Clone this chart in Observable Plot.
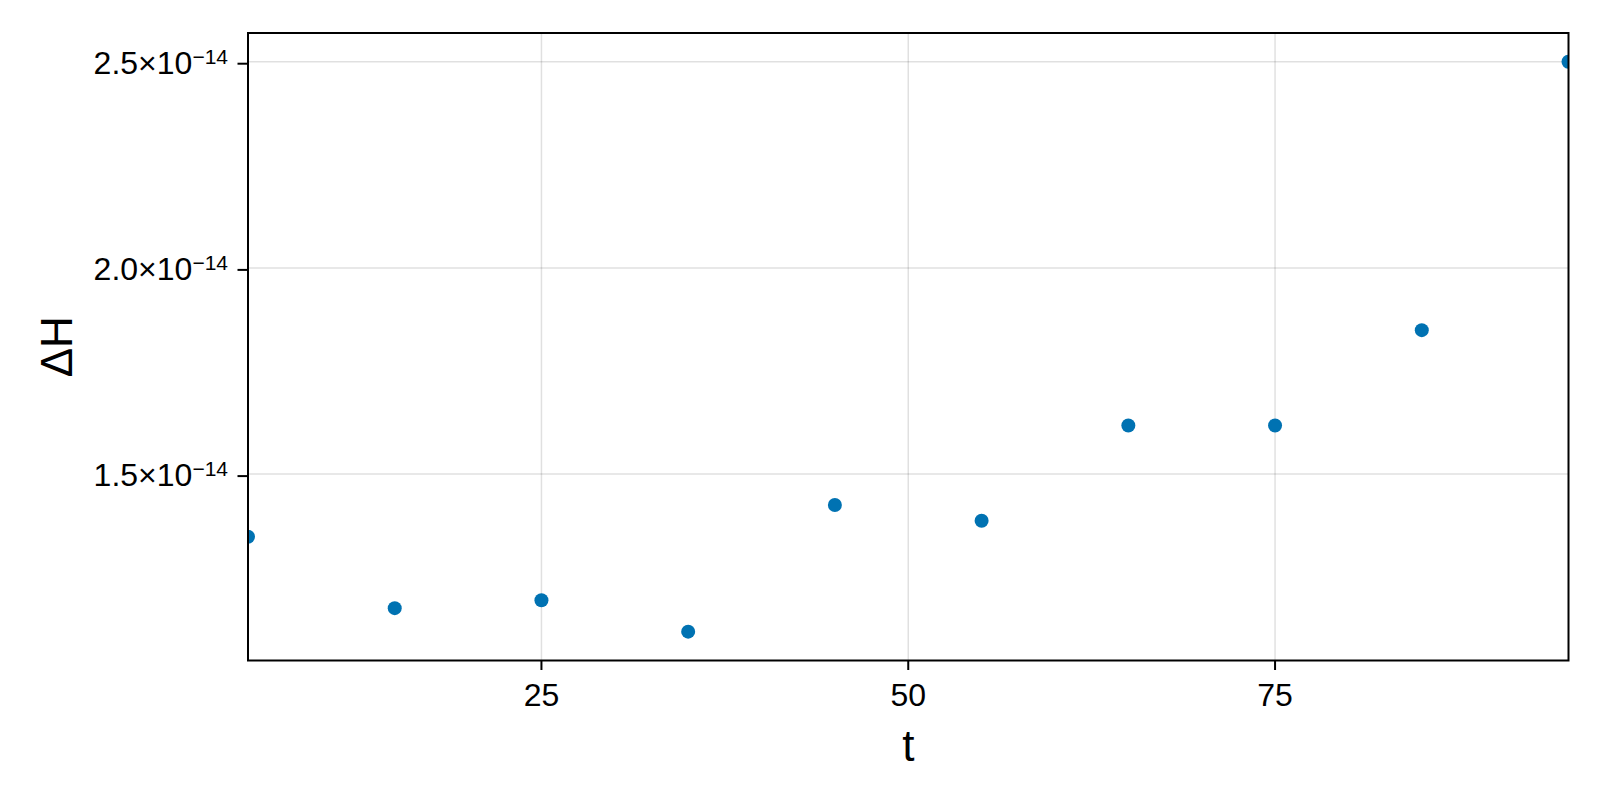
<!DOCTYPE html>
<html>
<head>
<meta charset="utf-8">
<script src="https://cdn.jsdelivr.net/npm/d3@7"></script>
<script src="https://cdn.jsdelivr.net/npm/@observablehq/plot@0.6"></script>
<style>
  html, body { margin: 0; padding: 0; background: #fff; }
  #chart svg { display: block; }
</style>
</head>
<body>
<div id="chart"></div>
<script>
// ---- data ----
const t = [5, 15, 25, 35, 45, 55, 65, 75, 85, 95];
const deltaH = [1.348e-14, 1.175e-14, 1.194e-14, 1.118e-14, 1.425e-14, 1.387e-14, 1.618e-14, 1.618e-14, 1.849e-14, 2.5e-14];
const xTicks = [25, 50, 75];
const xTickLabels = ["25", "50", "75"];
const yTicks = [1.5e-14, 2.0e-14, 2.5e-14];
const yTickMantissa = ["1.5", "2.0", "2.5"];
const yTickBase = "×10";
const yTickExponent = "−14";
const xLabel = "t";
const yLabel = "ΔH";
const xDomain = [5, 95];
const yDomain = [1.048e-14, 2.5696e-14];

const data = t.map((v, i) => ({t: v, dH: deltaH[i]}));
const font = "'Liberation Sans', Arial, Helvetica, sans-serif";
const gridStyle = {stroke: "#000", strokeOpacity: 0.12, strokeWidth: 1.5};

const chart = Plot.plot({
  width: 1600,
  height: 800,
  marginLeft: 247.5,
  marginRight: 32,
  marginTop: 32.5,
  marginBottom: 140,
  style: {fontFamily: font, background: "#fff", color: "#000", overflow: "visible"},
  x: {domain: xDomain},
  y: {domain: yDomain},
  marks: [
    Plot.gridX(xTicks, gridStyle),
    Plot.gridY(yTicks, gridStyle),
    Plot.dot(data, {x: "t", y: "dH", r: 7, fill: "#0072b2", stroke: null, clip: true}),
    Plot.frame({stroke: "#000", strokeWidth: 2}),
    Plot.axisX(xTicks, {
      tickSize: 10, strokeWidth: 2, tickPadding: 13, fontSize: 32, label: null,
      tickFormat: d => xTickLabels[xTicks.indexOf(d)]
    }),
    Plot.axisY(yTicks, {
      tickSize: 10, strokeWidth: 2, tickPadding: 10, fontSize: 32, label: null, dy: 2,
      tickFormat: d => yTickMantissa[yTicks.indexOf(d)]
    }),
    Plot.text([xLabel], {frameAnchor: "bottom", lineAnchor: "middle", textAnchor: "middle", dy: 86.6, fontSize: 44, fill: "#000"}),
    Plot.text([yLabel], {frameAnchor: "left", lineAnchor: "middle", textAnchor: "middle", dx: -189.9, rotate: -90, fontSize: 44, fill: "#000"})
  ]
});

document.getElementById("chart").appendChild(chart);

// add "×10^−14" to y tick labels (superscript)
const ns = "http://www.w3.org/2000/svg";
chart.querySelectorAll('g[aria-label="y-axis tick label"] text').forEach(el => {
  const base = document.createElementNS(ns, "tspan");
  base.textContent = yTickBase;
  const sup = document.createElementNS(ns, "tspan");
  sup.setAttribute("font-size", "21");
  sup.setAttribute("dy", "-10");
  sup.textContent = yTickExponent;
  el.appendChild(base);
  el.appendChild(sup);
});
</script>
</body>
</html>
